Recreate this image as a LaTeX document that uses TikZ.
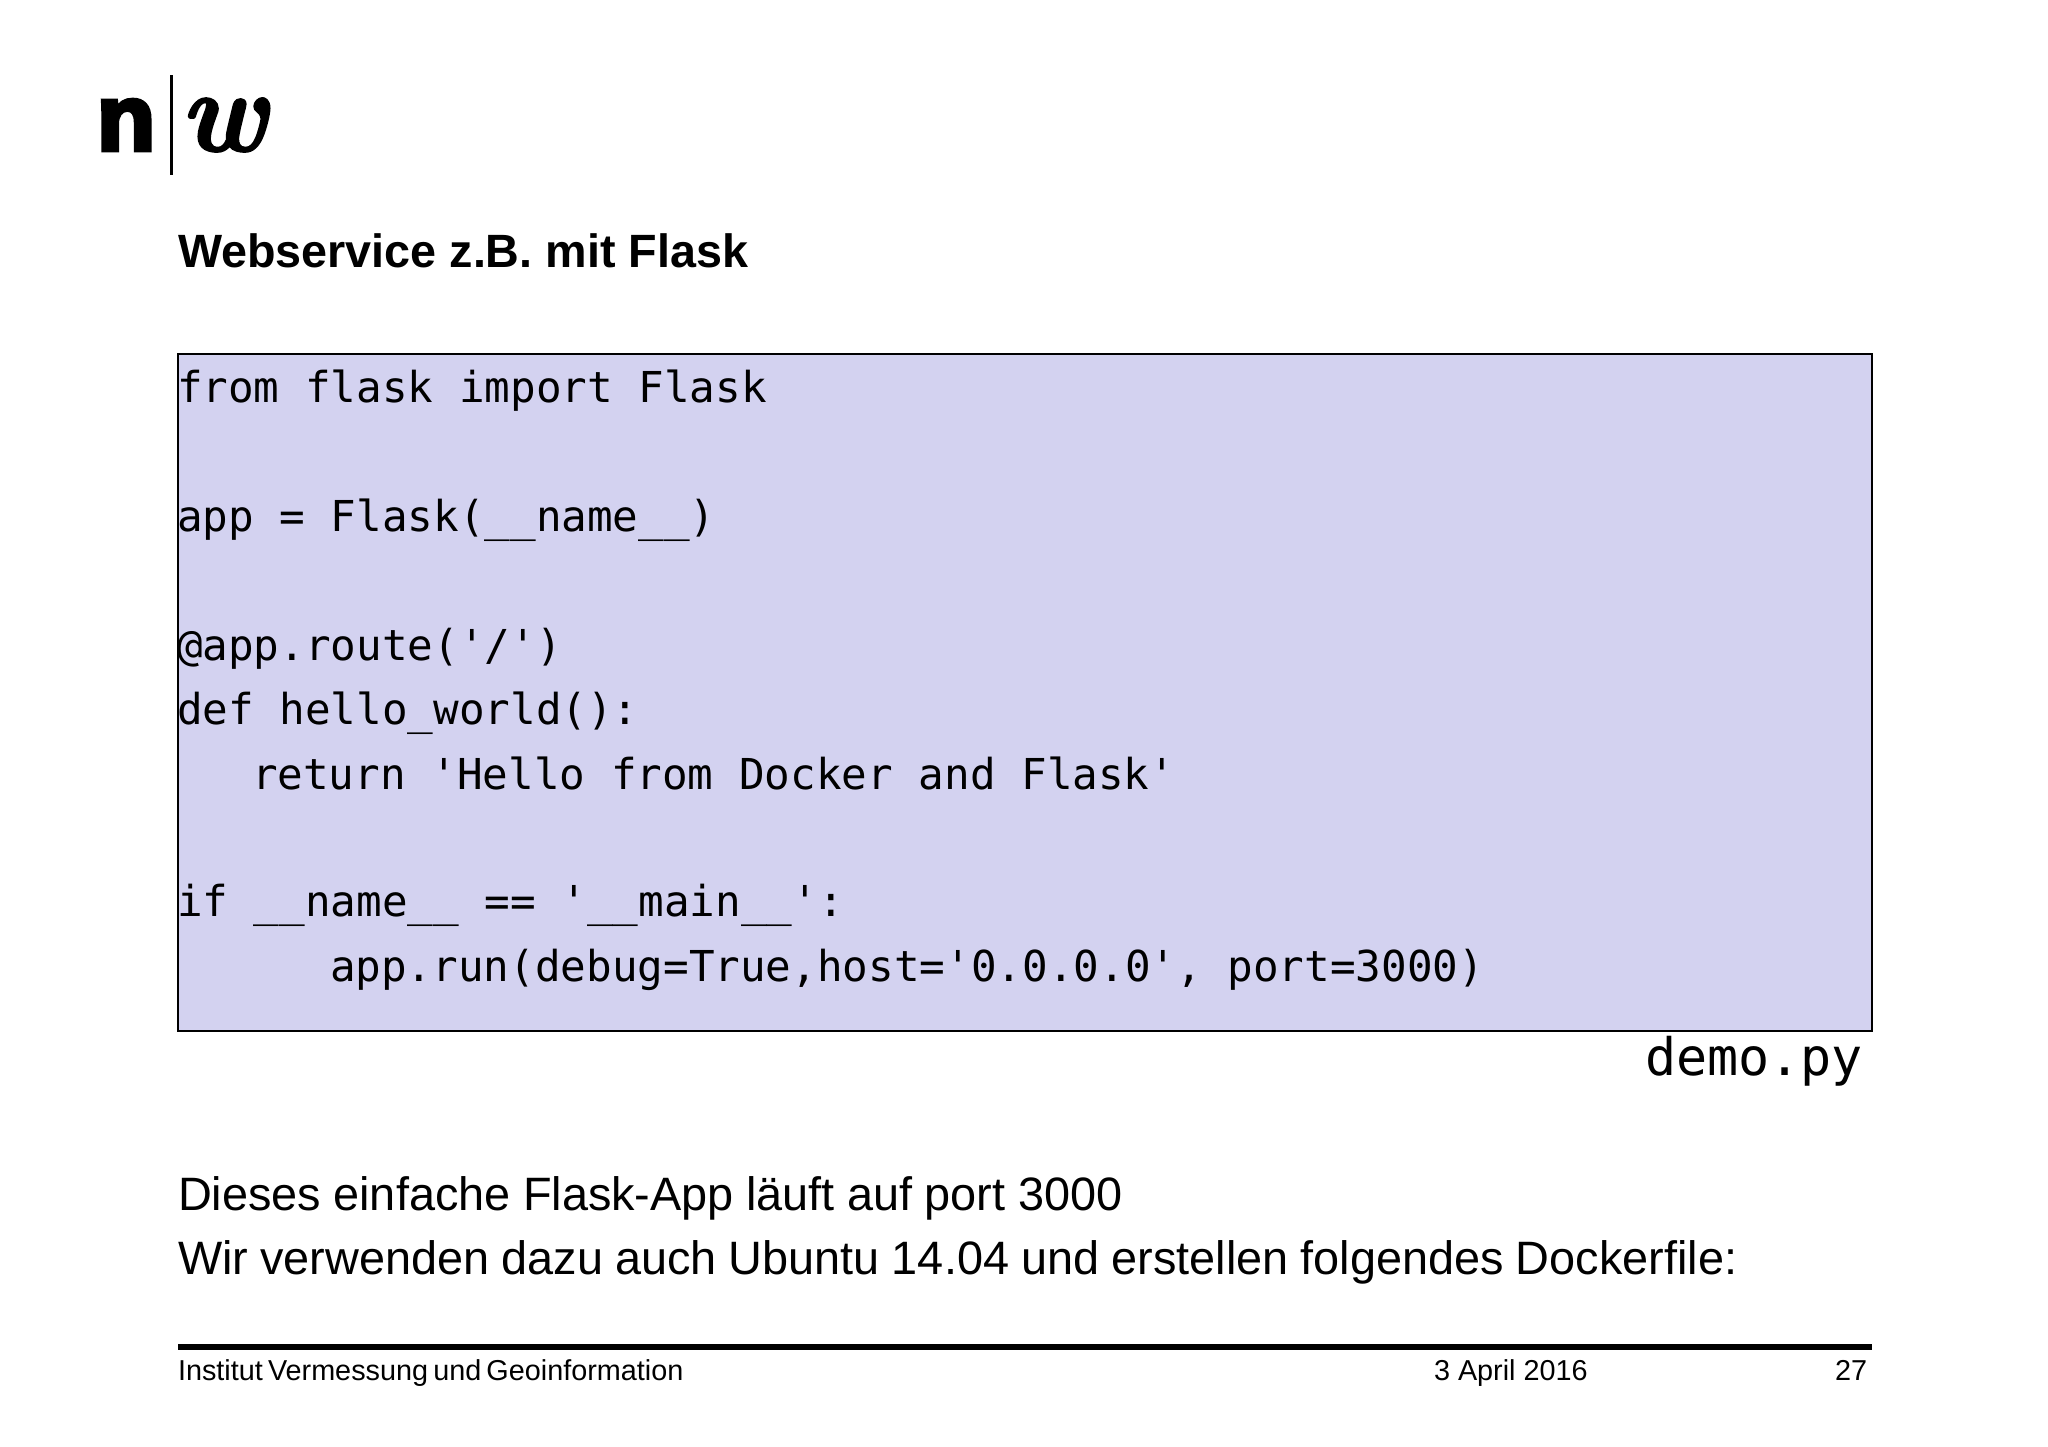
\documentclass[tikz,border=0pt]{standalone}
\usepackage{fontspec}
\setmainfont{Liberation Sans}
\newfontfamily\codefont{DejaVu Sans Mono}
\newfontfamily\logoW[BoldItalicFeatures={FakeBold=1.6}]{Latin Modern Roman}
\newfontfamily\logoN[FakeBold=5]{Liberation Sans Bold}
\definecolor{boxfill}{HTML}{D3D2F0}
\tikzset{
  txt/.style={inner sep=0pt,outer sep=0pt,anchor=base west,text=black},
  codeline/.style={txt,font=\codefont\fontsize{42.6}{50}\selectfont},
  bodyline/.style={txt,font=\fontsize{46.85}{55}\selectfont},
  footline/.style={txt,font=\fontsize{28.8}{34}\selectfont},
}
\begin{document}
\begin{tikzpicture}[x=1pt,y=-1pt]
\useasboundingbox (0,0) rectangle (2048,1447);
% logo
\node[txt] (logoN) at (97,150) {\resizebox{58pt}{50pt}{\logoN n}};
\fill (169.5,75) rectangle (173,175);
\node[txt] (logoW) at (180,151) {\resizebox{87pt}{53pt}{\logoW\bfseries\itshape w}};
% title
\node[txt,font=\bfseries\fontsize{46.7}{52}\selectfont] (title) at (178,268) {Webservice z.B. mit Flask};
% code box
\draw[fill=boxfill,draw=black,line width=2pt] (178,354) rectangle (1872,1031);
\node[codeline] (c1) at (177,402) {from flask import Flask};
\node[codeline] (c2) at (177,531) {app = Flask(\_\_name\_\_)};
\node[codeline] (c3) at (177,660) {@app.route('/')};
\node[codeline] (c4) at (177,724) {def hello\_world():};
\node[codeline] (c5) at (252,789) {return 'Hello from Docker and Flask'};
\node[codeline] (c6) at (177,916) {if \_\_name\_\_ == '\_\_main\_\_':};
\node[codeline] (c7) at (330,981) {app.run(debug=True,host='0.0.0.0', port=3000)};
\node[txt,font=\codefont\fontsize{51.7}{58}\selectfont] (demo) at (1645,1075) {demo.py};
% body
\node[bodyline] (b1) at (178,1210) {\spaceskip=.265em Dieses einfache Flask-App läuft auf port 3000};
\node[bodyline] (b2) at (178,1274) {\spaceskip=.258em Wir verwenden dazu auch Ubuntu 14.04 und erstellen folgendes Dockerfile:};
% footer
\fill (178,1344) rectangle (1872,1350);
\node[footline] (f1) at (178,1380) {\spaceskip=.18em Institut Vermessung und Geoinformation};
\node[footline] (f2) at (1434,1380) {3 April 2016};
\node[footline] (f3) at (1835,1380) {27};
\end{tikzpicture}
\end{document}
